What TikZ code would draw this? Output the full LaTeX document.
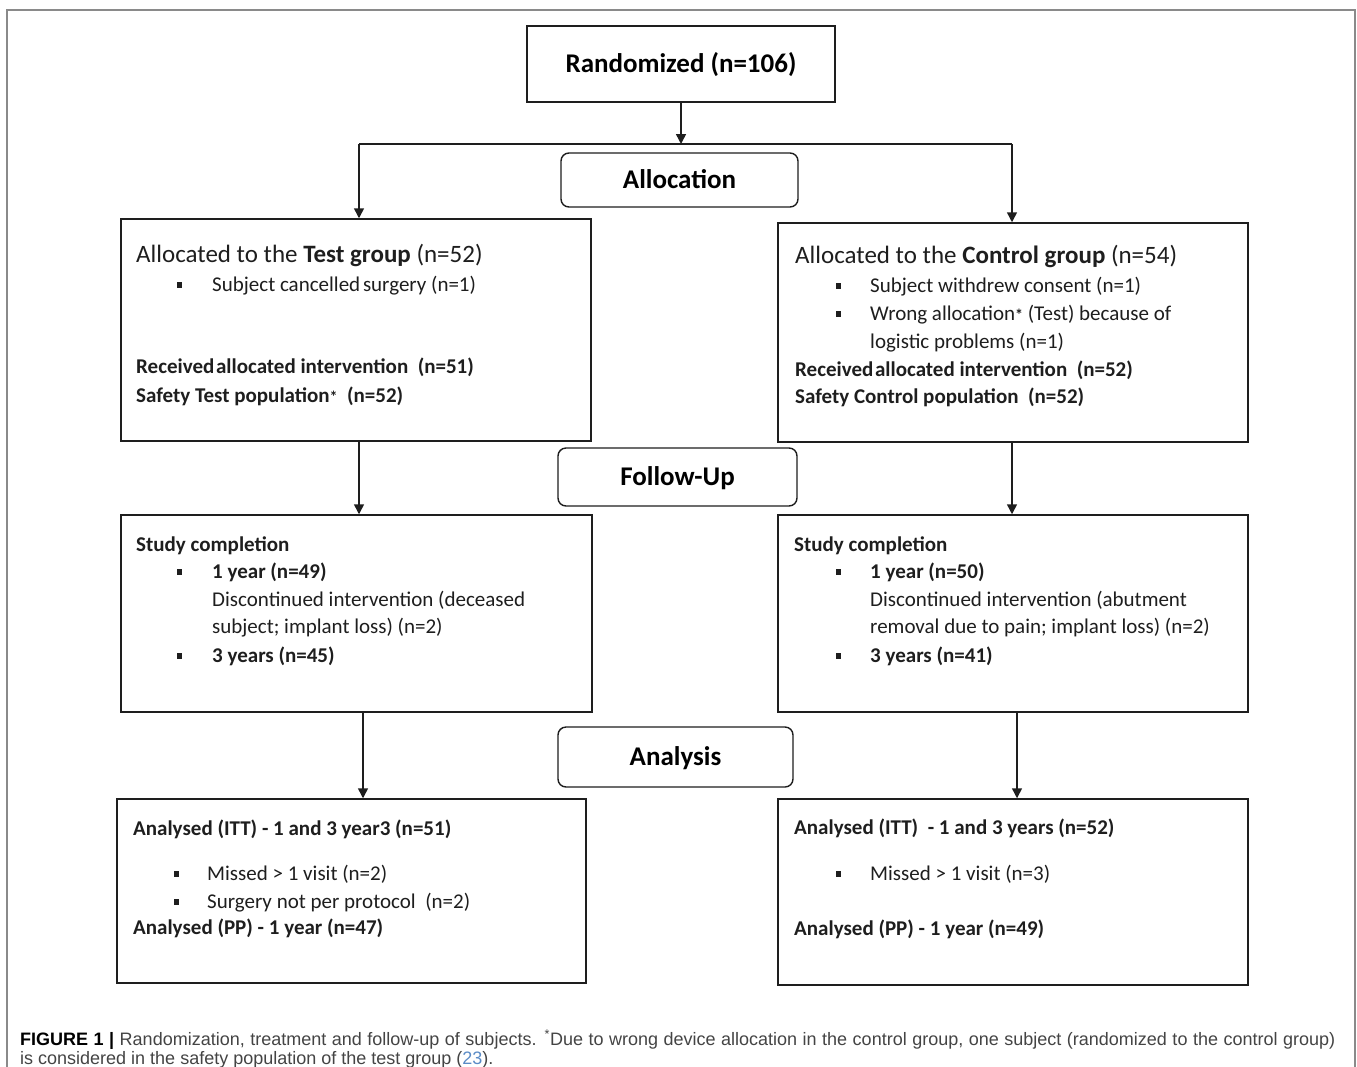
\documentclass[tikz,border=0pt]{standalone}
\usepackage{fontspec}
\setmainfont{Carlito}
\newfontfamily\capfont{Liberation Sans}
\usetikzlibrary{arrows.meta}
\definecolor{ink}{HTML}{1E1E1E}
\definecolor{framegray}{HTML}{8A8A8A}
\definecolor{captext}{HTML}{444444}
\definecolor{reflink}{HTML}{5A8BC6}
\newcommand{\astmark}{{\fontsize{16}{16}\selectfont\bfseries *}}
\tikzset{
  flowbox/.style={draw=ink, line width=1.5pt, inner sep=0pt},
  phasebox/.style={draw=ink, line width=1.4pt, rounded corners=8pt, inner sep=0pt,
    font=\fontsize{27}{30}\selectfont\bfseries, text height=19pt, text depth=2pt},
  titlebox/.style={flowbox, font=\fontsize{27}{30}\selectfont\bfseries, text height=19pt, text depth=2pt},
  headtxt/.style={anchor=base west, inner sep=0pt, text=ink, font=\fontsize{25}{28}\selectfont},
  bodytxt/.style={anchor=base west, inner sep=0pt, text=ink, font=\fontsize{21}{24}\selectfont},
  boldtxt/.style={bodytxt, font=\fontsize{21}{24}\selectfont\bfseries},
  bulletsq/.style={fill=ink, inner sep=0pt, minimum width=5pt, minimum height=6pt},
  connline/.style={draw=ink, line width=1.5pt},
  arrline/.style={connline, -{Triangle[length=10pt,width=10pt]}},
  captxt/.style={anchor=base west, inner sep=0pt, text=captext, font=\capfont\fontsize{18}{21}\selectfont}
}
\begin{document}
\begin{tikzpicture}[x=1pt,y=-1pt]
\useasboundingbox (0,0) rectangle (1357,1066);
\fill[white] (0,0) rectangle (1357,1066);
% outer frame
\draw[framegray, line width=1.5pt] (7,1080) -- (7,10) -- (1355,10) -- (1355,1080);

% boxes
\node[titlebox, minimum width=308pt, minimum height=76pt] (rand) at (681,64) {Randomized (n=106)};
\node[phasebox, minimum width=237pt, minimum height=54pt] (alloc) at (679.5,180) {Allocation};
\node[flowbox, minimum width=470pt, minimum height=222pt] (test) at (356,330) {};
\node[flowbox, minimum width=470pt, minimum height=219pt] (ctrl) at (1013,332.5) {};
\node[phasebox, minimum width=239pt, minimum height=58pt] (follow) at (677.5,477) {Follow-Up};
\node[flowbox, minimum width=471pt, minimum height=197pt] (sca) at (356.5,613.5) {};
\node[flowbox, minimum width=470pt, minimum height=197pt] (scb) at (1013,613.5) {};
\node[phasebox, minimum width=235pt, minimum height=60pt] (analysis) at (675.5,757) {Analysis};
\node[flowbox, minimum width=469pt, minimum height=184pt] (ana) at (351.5,891) {};
\node[flowbox, minimum width=470pt, minimum height=186pt] (anb) at (1013,892) {};

% connectors
\coordinate (split) at (681,144);
\coordinate (jl) at (359,144);
\coordinate (jr) at (1012,144);
\coordinate (xl) at (363,0);
\coordinate (xr) at (1017,0);
\draw[arrline] (rand.south) -- (split);
\draw[connline] (jl) -- (jr);
\draw[arrline] (jl) -- (jl |- test.north);
\draw[arrline] (jr) -- (jr |- ctrl.north);
\draw[arrline] (test.south -| jl) -- (sca.north -| jl);
\draw[arrline] (ctrl.south -| jr) -- (scb.north -| jr);
\draw[arrline] (sca.south -| xl) -- (ana.north -| xl);
\draw[arrline] (scb.south -| xr) -- (anb.north -| xr);

% Test group box
\node[headtxt] (t1) at (136,262) {Allocated to the \textbf{Test group} (n=52)};
\node[bulletsq] (tb1) at (179.5,285) {};
\node[bodytxt] (t2) at (212,291) {Subject cancelled\hspace{-2pt} surgery (n=1)};
\node[boldtxt] (t3) at (136,373) {Received\hspace{-3pt} allocated intervention\ \ (n=51)};
\node[boldtxt] (t4) at (136,402) {Safety Test population\astmark\ \ (n=52)};

% Control group box
\node[headtxt] (c1) at (795,263) {Allocated to the \textbf{Control group} (n=54)};
\node[bulletsq] (cb1) at (838.5,286) {};
\node[bodytxt] (c2) at (870,292) {Subject withdrew consent (n=1)};
\node[bulletsq] (cb2) at (838.5,314) {};
\node[bodytxt] (c3) at (870,320) {Wrong allocation\astmark\ (Test) because of};
\node[bodytxt] (c4) at (870,348) {logistic problems (n=1)};
\node[boldtxt] (c5) at (795,376) {Received\hspace{-3pt} allocated intervention\ \ (n=52)};
\node[boldtxt] (c6) at (795,403) {Safety Control population\ \ (n=52)};

% Study completion left
\node[boldtxt] (s1) at (136,551) {Study completion};
\node[bulletsq] (sb1) at (179.5,572) {};
\node[boldtxt] (s2) at (212,578) {1 year (n=49)};
\node[bodytxt] (s3) at (212,606) {Discontinued intervention (deceased};
\node[bodytxt] (s4) at (212,633) {subject; implant loss) (n=2)};
\node[bulletsq] (sb2) at (179.5,656) {};
\node[boldtxt] (s5) at (212,662) {3 years (n=45)};

% Study completion right
\node[boldtxt] (r1) at (794,551) {Study completion};
\node[bulletsq] (rb1) at (838.5,572) {};
\node[boldtxt] (r2) at (870,578) {1 year (n=50)};
\node[bodytxt] (r3) at (870,606) {Discontinued intervention (abutment};
\node[bodytxt] (r4) at (870,633) {removal due to pain; implant loss) (n=2)};
\node[bulletsq] (rb2) at (838.5,656) {};
\node[boldtxt] (r5) at (870,662) {3 years (n=41)};

% Analysis left
\node[boldtxt] (a1) at (133,835) {Analysed (ITT) - 1 and 3 year3 (n=51)};
\node[bulletsq] (ab1) at (176.5,874) {};
\node[bodytxt] (a2) at (207,880) {Missed > 1 visit (n=2)};
\node[bulletsq] (ab2) at (176.5,902) {};
\node[bodytxt] (a3) at (207,908) {Surgery not per protocol\ \ (n=2)};
\node[boldtxt] (a4) at (133,934) {Analysed (PP) - 1 year (n=47)};

% Analysis right
\node[boldtxt] (b1) at (794,834) {Analysed (ITT)\ \ - 1 and 3 years (n=52)};
\node[bulletsq] (bb1) at (838.5,874) {};
\node[bodytxt] (b2) at (870,880) {Missed > 1 visit (n=3)};
\node[boldtxt] (b3) at (794,935) {Analysed (PP) - 1 year (n=49)};

% caption
\node[captxt] (cap1) at (20,1045) {\makebox[1315pt][s]{\textcolor{black}{\textbf{FIGURE 1 |}} Randomization, treatment and follow-up of subjects. \textsuperscript{*}Due to wrong device allocation in the control group, one subject (randomized to the control group)}};
\node[captxt] (cap2) at (20,1064) {is considered in the safety population of the test group (\textcolor{reflink}{23}).};
\end{tikzpicture}
\end{document}
